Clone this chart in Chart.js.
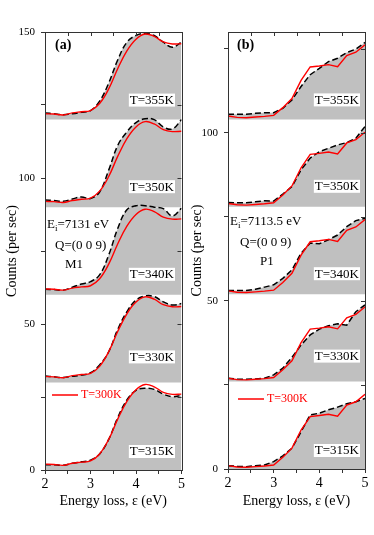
<!DOCTYPE html>
<html>
<head>
<meta charset="utf-8">
<script src="https://cdn.jsdelivr.net/npm/chart.js@4.4.0/dist/chart.umd.min.js"></script>
<style>
  body { margin: 0; background: #fff; width: 374px; height: 535px; position: relative; overflow: hidden; }
  .box { position: absolute; top: 0; width: 187px; height: 535px; }
</style>
</head>
<body>
<div class="box" style="left:0"><canvas id="chartA"></canvas></div>
<div class="box" style="left:187px"><canvas id="chartB"></canvas></div>
<script>
// energy loss grid (eV)
const energy = [2.0, 2.2, 2.4, 2.6, 2.8, 3.0, 3.2, 3.4, 3.6, 3.8, 4.0, 4.2, 4.4, 4.6, 4.8, 5.0];
const temps = ['T=315K', 'T=330K', 'T=340K', 'T=350K', 'T=355K'];

// panel (a), M1, counts above each curve's own baseline
const refA300 = [2.0, 1.9, 1.6, 2.3, 2.7, 3.1, 5.5, 10.5, 17.5, 23.5, 27.5, 29.3, 28.5, 26.6, 25.9, 26.0];
const a315 = [1.8, 1.8, 1.6, 2.3, 2.8, 3.4, 5.5, 10.5, 18.0, 24.0, 27.3, 28.0, 27.6, 26.0, 25.1, 25.6];
const a330 = [2.2, 1.9, 1.7, 2.1, 2.5, 3.3, 6.0, 10.5, 18.2, 24.2, 28.2, 29.6, 29.4, 27.6, 26.5, 27.0];
const a340 = [1.9, 1.8, 1.6, 2.6, 3.7, 4.5, 6.8, 13.6, 22.8, 29.1, 30.5, 30.5, 30.0, 29.5, 27.0, 29.7];
const a350 = [2.5, 2.3, 2.0, 2.8, 3.5, 3.0, 5.2, 12.7, 21.2, 25.8, 29.0, 30.3, 30.0, 27.5, 26.8, 30.0];
const a355 = [2.3, 2.0, 1.7, 2.0, 2.5, 3.1, 6.3, 12.5, 20.5, 26.5, 28.8, 29.5, 28.8, 26.5, 24.8, 26.5];
const offsetsA = [0, 30, 60, 90, 120];

// panel (b), P1
const refB300 = [1.0, 0.6, 0.5, 0.7, 0.9, 1.2, 3.5, 6.2, 11.6, 15.6, 15.9, 16.3, 15.7, 19.0, 20.0, 22.2];
const b315 = [1.0, 0.8, 0.7, 1.0, 1.2, 2.2, 3.9, 6.2, 11.1, 16.1, 16.6, 17.6, 18.4, 19.4, 20.0, 21.0];
const b330 = [1.0, 0.8, 0.7, 0.8, 1.0, 2.0, 4.0, 7.2, 10.9, 13.9, 15.6, 16.6, 17.2, 16.8, 20.8, 22.8];
const b340 = [1.1, 1.1, 1.1, 1.5, 2.1, 2.8, 4.7, 7.2, 12.2, 15.2, 15.0, 16.2, 17.6, 20.1, 21.9, 22.6];
const b350 = [1.3, 1.2, 1.2, 1.5, 1.8, 1.7, 3.8, 6.0, 11.0, 14.5, 16.4, 17.4, 18.4, 19.1, 20.4, 23.9];
const b355 = [1.5, 1.5, 1.5, 1.8, 2.0, 2.0, 3.3, 5.8, 9.8, 13.3, 15.2, 17.2, 18.2, 19.9, 20.9, 22.9];
const offsetsB = [0, 26, 52, 78, 104];

const xTicks = [2, 2.5, 3, 3.5, 4, 4.5, 5];
const yTicksA = [0, 25, 50, 75, 100, 125, 150];
const yTicksB = [0, 25, 50, 75, 100, 125];

Chart.defaults.font.family = "'Liberation Serif', 'Times New Roman', serif";
Chart.defaults.color = '#000';

const FRAME = '#333';
const labelLift = [18, 25, 20, 20, 19];

// frame, inward ticks on top/right, text annotations
const decor = {
  id: 'decor',
  afterDatasetsDraw(chart, args, o) {
    const ctx = chart.ctx;
    const y = chart.scales.y;
    ctx.save();
    // temperature boxes
    ctx.font = '13px ' + Chart.defaults.font.family;
    ctx.textBaseline = 'middle';
    temps.forEach((t, k) => {
      const cy = y.getPixelForValue(o.offsets[k]) - labelLift[k];
      const w = ctx.measureText(t).width;
      ctx.fillStyle = '#fff';
      ctx.fillRect(o.boxRight - w - 2, cy - 7, w + 2, 13);
      ctx.fillStyle = '#000';
      ctx.textAlign = 'right';
      ctx.fillText(t, o.boxRight - 1, cy);
    });
    // panel letter
    ctx.font = 'bold 14px ' + Chart.defaults.font.family;
    ctx.textAlign = 'left';
    ctx.fillText(o.panel, o.panelX, 45);
    // beam info
    ctx.font = '13px ' + Chart.defaults.font.family;
    ctx.fillText('E', o.eX, o.eY);
    let w = ctx.measureText('E').width;
    ctx.font = '9px ' + Chart.defaults.font.family;
    ctx.fillText('i', o.eX + w, o.eY + 4);
    w += ctx.measureText('i').width;
    ctx.font = '13px ' + Chart.defaults.font.family;
    ctx.fillText(o.energyText, o.eX + w, o.eY);
    ctx.fillText('Q=(0 0 9)', o.qX, o.eY + 21);
    ctx.fillText(o.peak, o.pX, o.eY + 40);
    // legend
    ctx.strokeStyle = '#ff0000';
    ctx.lineWidth = 1.5;
    ctx.beginPath();
    ctx.moveTo(o.legX, o.legY);
    ctx.lineTo(o.legX + 26, o.legY);
    ctx.stroke();
    ctx.fillStyle = '#ff0000';
    ctx.font = '12px ' + Chart.defaults.font.family;
    ctx.fillText('T=300K', o.legX + 29, o.legY);
    ctx.restore();
  },
  afterDraw(chart) {
    const ctx = chart.ctx;
    const a = chart.chartArea;
    const x = chart.scales.x, y = chart.scales.y;
    ctx.save();
    ctx.strokeStyle = FRAME;
    ctx.lineWidth = 1;
    ctx.strokeRect(Math.round(a.left) + 0.5, Math.round(a.top) + 0.5, Math.round(a.right - a.left), Math.round(a.bottom - a.top));
    ctx.beginPath();
    xTicks.forEach(v => {
      const px = Math.round(x.getPixelForValue(v)) + 0.5;
      ctx.moveTo(px, a.top);
      ctx.lineTo(px, a.top + 4);
    });
    y.ticks.forEach(t => {
      const py = Math.round(y.getPixelForValue(t.value)) + 0.5;
      ctx.moveTo(a.right, py);
      ctx.lineTo(a.right - 4, py);
    });
    ctx.stroke();
    ctx.restore();
  }
};

function buildChart(id, o) {
  const datasets = [];
  o.series.forEach((vals, k) => {
    const off = o.offsets[k];
    datasets.push({
      data: energy.map((e, i) => ({ x: e, y: o.ref[i] + off })),
      borderColor: '#ff0000', borderWidth: 1.4, fill: false,
      pointRadius: 0, tension: o.tension, order: 0
    });
    datasets.push({
      data: energy.map((e, i) => ({ x: e, y: vals[i] + off })),
      borderColor: '#000', borderWidth: 1.5, borderDash: [6, 3],
      backgroundColor: '#c0c0c0', fill: { value: off },
      pointRadius: 0, tension: o.tension, order: 1
    });
  });

  return new Chart(document.getElementById(id), {
    type: 'line',
    data: { datasets: datasets },
    options: {
      responsive: true,
      maintainAspectRatio: false,
      animation: false,
      layout: { padding: { top: 32, right: o.padRight, bottom: 0, left: 0 } },
      plugins: { legend: { display: false }, tooltip: { enabled: false }, decor: o },
      scales: {
        x: {
          type: 'linear', min: 2, max: 5,
          afterBuildTicks: s => { s.ticks = xTicks.map(v => ({ value: v })); },
          afterFit: s => { s.height = o.xHeight; },
          ticks: {
            font: { size: 14 }, padding: 2, maxRotation: 0, autoSkip: false,
            callback: v => (Number.isInteger(v) ? v : '')
          },
          grid: { drawOnChartArea: false, tickLength: 4, color: FRAME },
          border: { color: FRAME },
          title: {
            display: true, text: 'Energy loss, ε (eV)',
            font: { size: 14 }, padding: { top: 0, bottom: 25 }
          }
        },
        y: {
          type: 'linear', min: 0, max: o.yMax,
          afterBuildTicks: s => { s.ticks = o.yTicks.map(v => ({ value: v })); },
          afterFit: s => { s.width = o.yWidth; },
          ticks: {
            font: { size: 11 }, padding: 6, autoSkip: false,
            callback: v => (v % 50 === 0 ? v : '')
          },
          grid: { drawOnChartArea: false, tickLength: 4, color: FRAME },
          border: { color: FRAME },
          title: {
            display: true, text: 'Counts (per sec)',
            font: { size: 14 }, padding: { top: o.titlePad, bottom: 0 }
          }
        }
      }
    },
    plugins: [decor]
  });
}

buildChart('chartA', {
  series: [a315, a330, a340, a350, a355], ref: refA300, offsets: offsetsA,
  yMax: 150, yTicks: yTicksA, yWidth: 45, padRight: 4, xHeight: 65, tension: 0.4, titlePad: 4,
  boxRight: 175, panel: '(a)', panelX: 55,
  eX: 47, eY: 225, energyText: '=7131 eV', qX: 55, pX: 65, peak: 'M1',
  legX: 52, legY: 395
});

buildChart('chartB', {
  series: [b315, b330, b340, b350, b355], ref: refB300, offsets: offsetsB,
  yMax: 130, yTicks: yTicksB, yWidth: 41, padRight: 9, xHeight: 66, tension: 0, titlePad: 2,
  boxRight: 173, panel: '(b)', panelX: 50,
  eX: 43, eY: 222, energyText: '=7113.5 eV', qX: 53, pX: 73, peak: 'P1',
  legX: 51, legY: 399
});
</script>
</body>
</html>
